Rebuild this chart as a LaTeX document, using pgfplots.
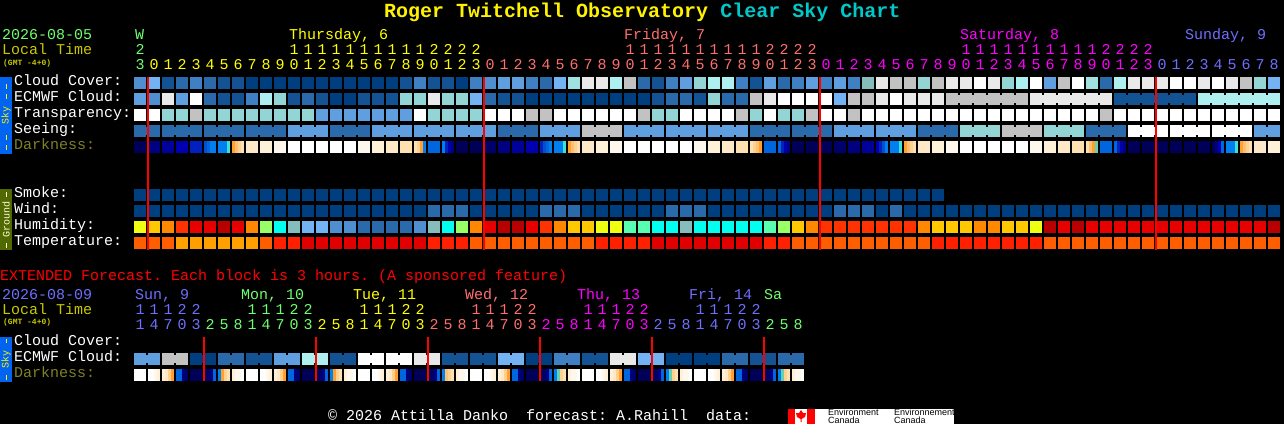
\documentclass[border=0pt]{standalone}
\usepackage{fontspec}
\usepackage{pgfplots}
\usepackage{pgfplotstable}
\pgfplotsset{compat=1.18}
\setmainfont{Liberation Mono}
\newfontfamily\logofont{Liberation Sans}

\definecolor{csgreen}{RGB}{110,255,110}
\definecolor{csyellow}{RGB}{255,255,0}
\definecolor{cssalmon}{RGB}{255,110,110}
\definecolor{csmagenta}{RGB}{255,0,255}
\definecolor{csblue}{RGB}{110,110,255}
\definecolor{csolive}{RGB}{200,200,0}
\definecolor{csdark}{RGB}{128,128,40}
\definecolor{cscyan}{RGB}{0,200,200}
\definecolor{skyband}{RGB}{0,100,240}
\definecolor{groundband}{RGB}{80,105,0}

% marks, in px (1 unit = 1pt = 1px)
\pgfdeclareplotmark{cell}{\pgfpathrectangle{\pgfpoint{-6pt}{-6pt}}{\pgfpoint{12pt}{12pt}}\pgfusepathqfill}
\pgfdeclareplotmark{strip}{\pgfpathrectangle{\pgfpoint{-1.5pt}{-6pt}}{\pgfpoint{3pt}{12pt}}\pgfusepathqfill}
\pgfdeclareplotmark{link}{\pgfpathrectangle{\pgfpoint{-1.2pt}{-4pt}}{\pgfpoint{2.4pt}{8pt}}\pgfusepathqfill}

% cell colours are indexes into the colormap of the axis
\pgfplotstableread{
x cloud ecmwf transp see sl el smoke wind hum temp
140 43 4 10 2 1 0 0 0 11 21
154 5 43 10 2 0 0 0 0 12 21
168 1 9 6 2 1 0 0 0 13 21
182 2 4 6 2 1 0 0 0 14 22
196 3 10 8 2 0 0 0 0 15 22
210 2 2 6 2 1 0 0 0 15 22
224 1 1 6 2 1 0 0 0 16 22
238 1 1 6 2 0 0 0 0 15 22
252 0 3 6 2 1 0 0 0 13 22
266 0 7 6 2 1 0 0 0 17 21
280 0 6 6 2 0 0 0 0 18 23
294 0 1 6 4 1 0 0 0 19 23
308 0 2 6 4 1 0 0 0 5 24
322 0 1 4 4 0 0 0 0 5 24
336 0 0 4 2 1 0 0 0 43 24
350 0 0 4 2 1 0 0 0 43 24
364 0 1 4 2 0 0 0 0 2 24
378 0 1 4 4 1 0 0 0 2 24
392 0 1 4 4 1 0 0 0 2 24
406 1 6 4 4 0 0 0 0 2 24
420 3 6 10 4 1 0 0 0 43 24
434 1 9 6 4 1 0 0 2 19 23
448 1 6 6 4 0 0 0 2 18 23
462 0 6 6 4 1 0 0 2 17 23
476 3 5 6 4 1 0 0 0 13 21
490 43 2 10 4 0 0 0 0 15 21
504 4 1 10 2 1 0 0 0 16 21
518 4 1 10 2 1 0 0 0 16 21
532 3 0 8 2 0 0 0 0 15 21
546 2 0 8 4 1 0 0 2 14 21
560 5 0 10 4 1 0 0 2 13 21
574 44 0 10 4 0 0 0 2 12 21
588 9 0 10 8 1 0 0 0 12 21
602 9 0 10 8 1 0 0 0 11 23
616 7 0 10 8 0 0 0 0 11 23
630 8 0 10 4 1 0 0 0 20 23
644 2 0 8 4 1 0 0 0 20 23
658 1 1 6 4 0 0 0 0 18 24
672 3 2 6 4 1 0 0 2 18 24
686 4 2 10 4 1 0 0 2 19 24
700 6 1 10 4 0 0 0 2 18 24
714 7 6 10 4 1 0 0 0 18 24
728 7 2 10 4 1 0 0 0 18 24
742 3 2 8 4 0 0 0 0 18 24
756 1 8 6 2 1 0 0 0 18 24
770 4 9 10 2 1 0 0 0 20 23
784 2 10 6 2 0 0 0 0 17 23
798 3 10 6 2 1 0 0 0 12 21
812 4 10 8 2 1 0 0 0 13 21
826 3 10 10 2 0 0 0 0 14 21
840 4 5 10 4 1 0 0 2 14 21
854 3 8 8 4 1 0 0 2 14 21
868 19 8 10 4 0 0 0 2 14 21
882 9 9 10 4 1 0 0 0 14 21
896 8 10 10 4 1 0 0 2 14 21
910 8 9 10 4 0 0 0 0 14 21
924 6 9 10 2 1 0 0 0 13 21
938 8 9 10 2 1 0 0 0 12 23
952 9 8 10 2 0 1 nan 0 12 23
966 9 8 10 6 1 1 nan 0 12 23
980 10 8 10 6 1 1 nan 0 13 23
994 9 8 10 6 0 1 nan 0 13 23
1008 6 8 10 8 1 1 nan 0 12 23
1022 7 8 10 8 1 0 nan 0 12 23
1036 10 9 10 8 0 1 nan 0 11 23
1050 4 9 10 6 1 1 nan 0 16 21
1064 8 9 10 6 1 1 nan 0 15 21
1078 10 9 10 6 0 1 nan 0 16 21
1092 44 9 10 2 1 1 nan 0 15 21
1106 2 9 8 2 1 0 nan 0 15 21
1120 7 1 10 2 0 1 nan 0 15 21
1134 9 1 10 10 1 1 nan 0 15 21
1148 9 1 10 10 1 1 nan 0 15 21
1162 9 1 10 10 0 1 nan 0 15 21
1176 10 1 10 10 1 1 nan 0 15 21
1190 10 1 10 10 1 0 nan 0 15 21
1204 9 7 10 10 0 1 nan 0 15 21
1218 10 7 10 10 1 1 nan 0 15 21
1232 9 7 10 10 1 1 nan 0 15 21
1246 8 7 10 10 0 1 nan 0 15 21
1260 6 7 10 4 1 1 nan 0 15 21
1274 5 7 10 4 0 0 nan 0 16 21
}\main

% darkness: four strips to a cell
\pgfplotstableread{
x a b c d
140 25 25 25 25
154 27 27 27 27
168 28 28 28 28
182 29 29 29 29
196 30 30 30 30
210 31 32 33 33
224 33 33 33 34
238 35 36 37 38
252 39 39 39 39
266 40 40 40 40
280 41 41 41 41
294 10 10 10 10
308 10 10 10 10
322 10 10 10 10
336 10 10 10 10
350 10 10 10 10
364 41 41 41 41
378 40 40 40 40
392 39 39 39 39
406 38 38 38 38
420 38 37 35 33
434 32 32 32 32
448 33 30 29 27
462 25 25 25 25
476 25 25 25 25
490 26 26 26 26
504 27 27 27 27
518 28 28 28 28
532 29 29 29 29
546 30 31 32 33
560 33 33 33 34
574 35 36 37 38
588 39 39 39 39
602 40 40 40 40
616 41 41 41 41
630 10 10 10 10
644 10 10 10 10
658 10 10 10 10
672 10 10 10 10
686 10 10 10 10
700 41 41 41 41
714 40 40 40 40
728 39 39 39 39
742 38 38 38 38
756 38 37 36 35
770 32 32 32 32
784 32 30 29 27
798 25 25 25 25
812 25 25 25 25
826 25 25 25 25
840 26 26 26 26
854 27 27 27 27
868 28 28 28 28
882 29 30 31 33
896 33 33 33 34
910 35 36 37 38
924 39 39 39 39
938 40 40 40 40
952 41 41 41 41
966 10 10 10 10
980 10 10 10 10
994 10 10 10 10
1008 10 10 10 10
1022 10 10 10 10
1036 41 41 41 41
1050 40 40 40 40
1064 39 39 39 39
1078 38 38 38 38
1092 38 36 35 42
1106 32 32 32 32
1120 32 30 29 27
1134 25 25 25 25
1148 25 25 25 25
1162 25 25 25 25
1176 25 25 25 25
1190 25 25 25 25
1204 25 25 25 25
1218 25 27 29 32
1232 33 33 33 34
1246 35 36 37 38
1260 39 39 39 39
1274 40 40 40 40
}\dark

% extended forecast
\pgfplotstableread{
x ecmwf el a b c d
140 4 1 10 10 10 10
154 4 0 10 10 41 40
168 8 1 40 39 37 35
182 8 0 32 32 27 26
196 0 1 25 25 25 25
210 0 0 25 26 27 32
224 2 1 33 35 37 38
238 2 0 40 41 41 10
252 1 1 10 10 10 10
266 1 0 10 10 41 40
280 4 1 40 39 37 35
294 4 0 32 32 27 26
308 7 1 25 25 25 25
322 7 0 25 26 27 32
336 1 1 33 35 37 38
350 1 0 40 41 41 10
364 10 1 10 10 10 10
378 10 0 10 10 41 40
392 10 1 40 39 37 35
406 10 0 32 32 27 26
420 9 1 25 25 25 25
434 9 0 25 26 27 32
448 1 1 33 36 37 38
462 1 0 40 41 41 10
476 1 1 10 10 10 10
490 1 0 10 10 41 40
504 5 1 40 39 37 35
518 5 0 32 32 27 26
532 0 1 25 25 25 25
546 0 0 25 26 27 32
560 3 1 33 42 37 38
574 3 0 40 41 41 10
588 1 1 10 10 10 10
602 1 0 10 10 41 40
616 9 1 40 39 37 35
630 9 0 32 32 27 26
644 5 1 25 25 25 25
658 5 0 25 26 27 32
672 0 1 33 42 37 38
686 0 0 40 41 41 10
700 0 1 10 10 10 10
714 0 0 10 10 41 40
728 2 1 40 39 37 35
742 2 0 32 32 27 26
756 1 1 25 25 25 25
770 1 0 25 26 27 32
784 2 1 33 42 37 38
798 2 0 40 41 41 10
}\ext

\tikzset{lab/.style={inner sep=0pt,yshift=0.8pt,font=\fontsize{15}{15}\selectfont}}
\newcommand{\digits}[4]{%
  \foreach \d [count=\i from 0] in {#4} {
    \pgfmathtruncatemacro\px{#1+14*\i}
    \edef\tmp{\noexpand\node[lab,anchor=base,text=#3] at (axis cs:\px,#2) {\d};}\tmp
  }}
\newcommand{\txt}[4]{\node[lab,anchor=base west,text=#3] at (axis cs:#1,#2) {#4};}

\begin{document}
\frenchspacing
\begin{tikzpicture}
\begin{axis}[
    scale only axis, width=1284pt, height=424pt,
    xmin=0, xmax=1284, ymin=0, ymax=424, y dir=reverse,
    axis lines=none, clip=false, clip mode=individual,
    axis background/.style={fill=black},
    colormap={csc}{
      HTML=(003F7F) HTML=(135393) HTML=(2A6AAA) HTML=(3F80C4) HTML=(5F9FDF)
      HTML=(73B3F3) HTML=(93D5D5) HTML=(AEEFEF) HTML=(C2C2C2) HTML=(E9E9E9)
      HTML=(FFFFFF) HTML=(EEFF11) HTML=(FFC800) HTML=(FF8800) HTML=(FF3300)
      HTML=(E60000) HTML=(B80000) HTML=(99FF66) HTML=(00FFEE) HTML=(85BDBD)
      HTML=(59FFB0) HTML=(FF5E00) HTML=(FFA000) HTML=(FF2000) HTML=(E00000)
      HTML=(000058) HTML=(00006A) HTML=(000080) HTML=(00009A) HTML=(0000B0)
      HTML=(0020C0) HTML=(0050D0) HTML=(0066E0) HTML=(0080F0) HTML=(40E0D0)
      HTML=(FFA030) HTML=(FFC070) HTML=(FFD090) HTML=(FFE0B0) HTML=(FFE8C8)
      HTML=(FFF0D8) HTML=(FFF8EC) HTML=(66D0B0) HTML=(4F8FCF) HTML=(A0E0E0)
    },
    point meta min=0, point meta max=44,
    cells/.style={scatter, only marks, mark=cell},
    strips/.style={scatter, only marks, mark=strip},
    links/.style={scatter, only marks, mark=link},
]
% left bands
\fill[skyband] (axis cs:0,77) rectangle (axis cs:12,154);
\fill[groundband] (axis cs:0,189) rectangle (axis cs:12,250);
\fill[skyband] (axis cs:0,337) rectangle (axis cs:12,382);
\addplot[color=yellow, line width=1pt] table {
x y
6 84
6 89

6 94
6 99

6 135
6 140

6 145
6 150

6 339
6 343

6 375
6 380
};
\addplot[color=white!85!yellow, line width=1pt] table {
x y
6 192
6 197

6 243
6 248
};
\node[rotate=90,inner sep=0pt,text=yellow,font=\fontsize{10}{10}\selectfont] at (axis cs:6,115.5) {Sky};
\node[rotate=90,inner sep=0pt,text=white!85!yellow,font=\fontsize{10}{10}\selectfont] at (axis cs:6,219.5) {Ground};
\node[rotate=90,inner sep=0pt,text=yellow,font=\fontsize{10}{10}\selectfont] at (axis cs:6,359.5) {Sky};

% main blocks
\addplot[cells,point meta=\thisrow{cloud}] table[x=x,y expr=83] {\main};
\addplot[cells,point meta=\thisrow{ecmwf}] table[x=x,y expr=99] {\main};
\addplot[links,point meta=\thisrow{ecmwf}] table[x expr=\thisrow{x}+7,y expr={\thisrow{el}>0 ? 99 : nan}] {\main};
\addplot[cells,point meta=\thisrow{transp}] table[x=x,y expr=115] {\main};
\addplot[cells,point meta=\thisrow{see}] table[x=x,y expr=131] {\main};
\addplot[links,point meta=\thisrow{see}] table[x expr=\thisrow{x}+7,y expr={\thisrow{sl}>0 ? 131 : nan}] {\main};
\addplot[strips,point meta=\thisrow{a}] table[x expr=\thisrow{x}-4.5,y expr=147] {\dark};
\addplot[strips,point meta=\thisrow{b}] table[x expr=\thisrow{x}-1.5,y expr=147] {\dark};
\addplot[strips,point meta=\thisrow{c}] table[x expr=\thisrow{x}+1.5,y expr=147] {\dark};
\addplot[strips,point meta=\thisrow{d}] table[x expr=\thisrow{x}+4.5,y expr=147] {\dark};
\addplot[cells,restrict x to domain=0:945,point meta=\thisrow{smoke}] table[x=x,y expr=195] {\main};
\addplot[cells,point meta=\thisrow{wind}] table[x=x,y expr=211] {\main};
\addplot[cells,point meta=\thisrow{hum}] table[x=x,y expr=227] {\main};
\addplot[cells,point meta=\thisrow{temp}] table[x=x,y expr=243] {\main};

% extended blocks
\addplot[cells,point meta=\thisrow{ecmwf}] table[x=x,y expr=359] {\ext};
\addplot[links,point meta=\thisrow{ecmwf}] table[x expr=\thisrow{x}+7,y expr={\thisrow{el}>0 ? 359 : nan}] {\ext};
\addplot[strips,point meta=\thisrow{a}] table[x expr=\thisrow{x}-4.5,y expr=375] {\ext};
\addplot[strips,point meta=\thisrow{b}] table[x expr=\thisrow{x}-1.5,y expr=375] {\ext};
\addplot[strips,point meta=\thisrow{c}] table[x expr=\thisrow{x}+1.5,y expr=375] {\ext};
\addplot[strips,point meta=\thisrow{d}] table[x expr=\thisrow{x}+4.5,y expr=375] {\ext};

% midnight lines
\addplot[color=red, line width=2pt] table {
x y
148 77
148 250

484 77
484 250

820 77
820 250

1156 77
1156 250

204 337
204 381

316 337
316 381

428 337
428 381

540 337
540 381

652 337
652 381

764 337
764 381
};

% title
\node[anchor=base west,inner sep=0pt,font=\fontsize{20}{20}\selectfont\bfseries] at (axis cs:384,17)
  {\textcolor{yellow}{Roger Twitchell Observatory} \textcolor{cscyan}{Clear Sky Chart}};

% main header
\txt{2}{40}{csgreen}{2026-08-05}
\txt{2}{55}{csolive}{Local Time}
\node[anchor=base west,inner sep=0pt,font=\fontsize{8}{8}\selectfont\bfseries,text=csolive] at (axis cs:3,65) {(GMT -4+0)};
\txt{135}{40}{csgreen}{W}
\txt{289}{40}{csyellow}{Thursday, 6}
\txt{624}{40}{cssalmon}{Friday, 7}
\txt{960}{40}{csmagenta}{Saturday, 8}
\txt{1185}{40}{csblue}{Sunday, 9}
\digits{140}{55}{csgreen}{2}
\digits{294}{55}{csyellow}{1,1,1,1,1,1,1,1,1,1,2,2,2,2}
\digits{630}{55}{cssalmon}{1,1,1,1,1,1,1,1,1,1,2,2,2,2}
\digits{966}{55}{csmagenta}{1,1,1,1,1,1,1,1,1,1,2,2,2,2}
\digits{140}{70}{csgreen}{3}
\digits{154}{70}{csyellow}{0,1,2,3,4,5,6,7,8,9,0,1,2,3,4,5,6,7,8,9,0,1,2,3}
\digits{490}{70}{cssalmon}{0,1,2,3,4,5,6,7,8,9,0,1,2,3,4,5,6,7,8,9,0,1,2,3}
\digits{826}{70}{csmagenta}{0,1,2,3,4,5,6,7,8,9,0,1,2,3,4,5,6,7,8,9,0,1,2,3}
\digits{1162}{70}{csblue}{0,1,2,3,4,5,6,7,8}

% row labels
\txt{14}{86}{white}{Cloud Cover:}
\txt{14}{102}{white}{ECMWF Cloud:}
\txt{14}{118}{white}{Transparency:}
\txt{14}{134}{white}{Seeing:}
\txt{14}{150}{csdark}{Darkness:}
\txt{14}{198}{white}{Smoke:}
\txt{14}{214}{white}{Wind:}
\txt{14}{230}{white}{Humidity:}
\txt{14}{246}{white}{Temperature:}

% extended header
\txt{0}{281}{red}{EXTENDED Forecast. Each block is 3 hours. (A sponsored feature)}
\txt{2}{300}{csblue}{2026-08-09}
\txt{2}{315}{csolive}{Local Time}
\node[anchor=base west,inner sep=0pt,font=\fontsize{8}{8}\selectfont\bfseries,text=csolive] at (axis cs:3,324) {(GMT -4+0)};
\txt{135}{300}{csblue}{Sun, 9}
\txt{241}{300}{csgreen}{Mon, 10}
\txt{353}{300}{csyellow}{Tue, 11}
\txt{465}{300}{cssalmon}{Wed, 12}
\txt{577}{300}{csmagenta}{Thu, 13}
\txt{689}{300}{csblue}{Fri, 14}
\txt{764}{300}{csgreen}{Sa}
\digits{140}{315}{csblue}{1,1,1,2,2}
\digits{252}{315}{csgreen}{1,1,1,2,2}
\digits{364}{315}{csyellow}{1,1,1,2,2}
\digits{476}{315}{cssalmon}{1,1,1,2,2}
\digits{588}{315}{csmagenta}{1,1,1,2,2}
\digits{700}{315}{csblue}{1,1,1,2,2}
\digits{140}{330}{csblue}{1,4,7,0,3}
\digits{210}{330}{csgreen}{2,5,8,1,4,7,0,3}
\digits{322}{330}{csyellow}{2,5,8,1,4,7,0,3}
\digits{434}{330}{cssalmon}{2,5,8,1,4,7,0,3}
\digits{546}{330}{csmagenta}{2,5,8,1,4,7,0,3}
\digits{658}{330}{csblue}{2,5,8,1,4,7,0,3}
\digits{770}{330}{csgreen}{2,5,8}
\txt{14}{346}{white}{Cloud Cover:}
\txt{14}{362}{white}{ECMWF Cloud:}
\txt{14}{378}{csdark}{Darkness:}

% footer and logo
\txt{328}{421}{white}{© 2026 Attilla Danko\ \ forecast: A.Rahill\ \ data:}
\fill[white] (axis cs:788,409) rectangle (axis cs:954,424);
\fill[red] (axis cs:788,409) rectangle (axis cs:795,424);
\fill[red] (axis cs:807,409) rectangle (axis cs:815,424);
\fill[red] (axis cs:801,410) -- (axis cs:803,413) -- (axis cs:806,413) -- (axis cs:805,417) -- (axis cs:801.5,419) -- (axis cs:801.5,422) -- (axis cs:800.5,422) -- (axis cs:800.5,419) -- (axis cs:797,417) -- (axis cs:796,413) -- (axis cs:799,413) -- cycle;
\node[anchor=base west,inner sep=0pt,text=black,font=\logofont\fontsize{9}{9}\selectfont] at (axis cs:828,415.5) {Environment};
\node[anchor=base west,inner sep=0pt,text=black,font=\logofont\fontsize{9}{9}\selectfont] at (axis cs:828,423) {Canada};
\node[anchor=base west,inner sep=0pt,text=black,font=\logofont\fontsize{9}{9}\selectfont] at (axis cs:894,415.5) {Environnement};
\node[anchor=base west,inner sep=0pt,text=black,font=\logofont\fontsize{9}{9}\selectfont] at (axis cs:894,423) {Canada};
\end{axis}
\end{tikzpicture}
\end{document}
